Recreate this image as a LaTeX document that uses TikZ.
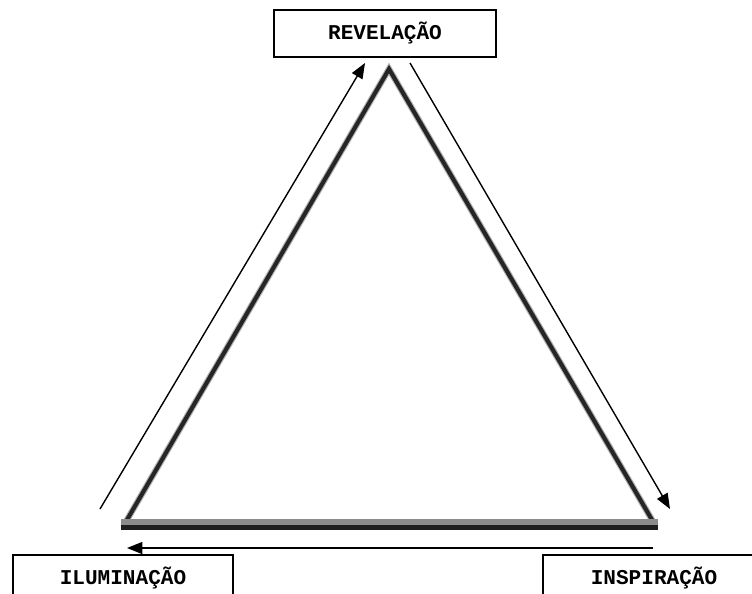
\documentclass[tikz,border=0pt]{standalone}
\usepackage{fontspec}
\setmonofont{Liberation Mono}
\usetikzlibrary{arrows.meta}
\begin{document}
\begin{tikzpicture}[x=0.75pt,y=-0.75pt,
  lbl/.style={draw, line width=1.1pt, inner sep=0pt,
    font=\ttfamily\bfseries\fontsize{15.8}{18}\selectfont},
  arr/.style={line width=1.05pt, -{Triangle[length=11.5pt,width=9pt]}},
  side/.style={line width=3.1pt, draw=black!85, line cap=square},
  halo/.style={line width=4.8pt, draw=black!30, line cap=square}]
\useasboundingbox (0,0) rectangle (752,593);
% labels
\node[lbl, minimum width=166.5pt, minimum height=35.25pt] (rev) at (385,33.5) {REVELAÇÃO};
\node[lbl, minimum width=165pt, minimum height=34.5pt] (ilu) at (123,578) {ILUMINAÇÃO};
\node[lbl, minimum width=166.5pt, minimum height=34.5pt] (ins) at (654,578) {INSPIRAÇÃO};
% triangle corners
\coordinate (A) at (389,69);
\coordinate (L) at (124,525);
\coordinate (R) at (655,525);
% triangle
\draw[halo] (L) -- (A) -- (R);
\draw[side] (L) -- (A) -- (R);
\fill[black!45] (121,519) rectangle (658,525);
\fill[black!88] (121,525) rectangle (658,530);
% arrow ends
\coordinate (a1s) at (100,509);
\coordinate (a1e) at (365,63);
\coordinate (a2s) at (410,63);
\coordinate (a2e) at (670,509);
\coordinate (a3s) at (653,548);
\coordinate (a3e) at (127,548);
\draw[arr] (a1s) -- (a1e);
\draw[arr] (a2s) -- (a2e);
\draw[arr] (a3s) -- (a3e);
\end{tikzpicture}
\end{document}
